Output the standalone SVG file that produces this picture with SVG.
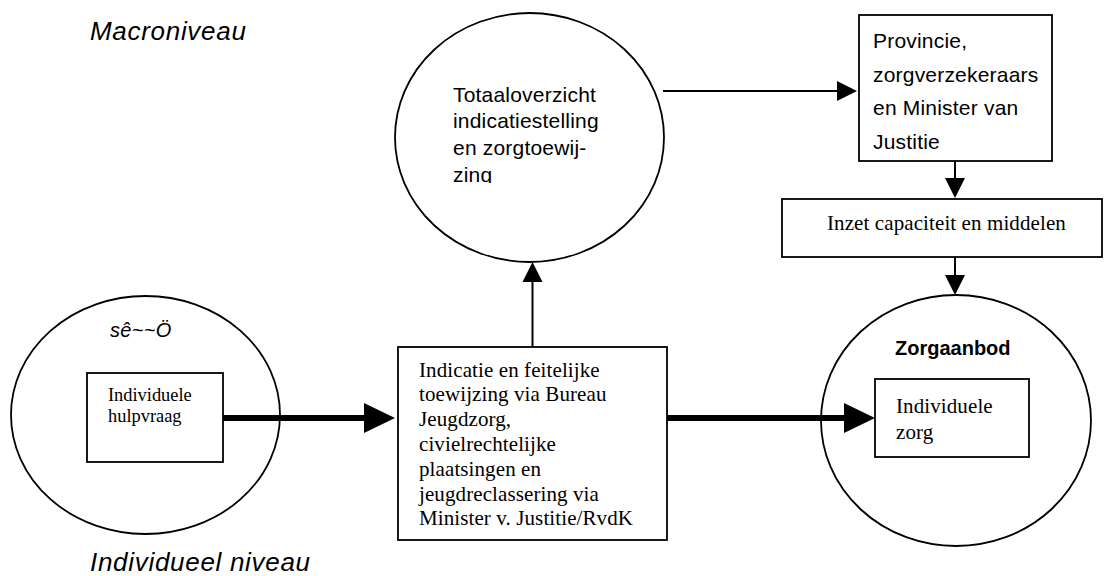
<svg xmlns="http://www.w3.org/2000/svg" width="1104" height="576" viewBox="0 0 1104 576">
<style>
  .shape { fill: #ffffff; stroke: #000000; stroke-width: 1.8; }
  .serif { font-family: "Liberation Serif", "Times New Roman", serif; font-size: 21px; letter-spacing: 0.1px; fill: #000; }
  .sans { font-family: "Liberation Sans", Arial, sans-serif; font-size: 21px; letter-spacing: 0.2px; fill: #000; }
  .level { font-family: "Liberation Sans", Arial, sans-serif; font-size: 26px; font-style: italic; letter-spacing: 0.7px; fill: #000; }
  .thin { fill: none; stroke: #000; stroke-width: 2; }
  .thick { fill: none; stroke: #000; stroke-width: 6; }
</style>
<defs>
  <marker id="ah-thin" markerUnits="userSpaceOnUse" markerWidth="20" markerHeight="20" refX="0" refY="10" orient="auto" overflow="visible">
    <path d="M0,0 L20,10 L0,20 z" fill="#000"/>
  </marker>
  <marker id="ah-thick" markerUnits="userSpaceOnUse" markerWidth="31" markerHeight="30" refX="0" refY="15" orient="auto" overflow="visible">
    <path d="M0,0 L31,15 L0,30 z" fill="#000"/>
  </marker>
  <clipPath id="clip-top">
    <rect x="440" y="70" width="200" height="113"/>
  </clipPath>
</defs>
<rect width="1104" height="576" fill="#ffffff"/>

<text class="level" x="90" y="40">Macroniveau</text>
<text class="level" x="90" y="571">Individueel niveau</text>

<g id="node-totaaloverzicht">
  <ellipse class="shape" cx="529.5" cy="137.5" rx="134.5" ry="124.5"/>
  <g clip-path="url(#clip-top)">
    <text class="sans" x="453" y="101.7">Totaaloverzicht</text>
    <text class="sans" x="453" y="128.3">indicatiestelling</text>
    <text class="sans" x="453" y="155">en zorgtoewij-</text>
    <text class="sans" x="453" y="181.5">zing</text>
  </g>
</g>

<g id="node-provincie">
  <rect class="shape" x="859" y="15" width="193" height="146"/>
  <text class="sans" x="873" y="48.3">Provincie,</text>
  <text class="sans" x="873" y="81.7">zorgverzekeraars</text>
  <text class="sans" x="873" y="115">en Minister van</text>
  <text class="sans" x="873" y="149">Justitie</text>
</g>

<g id="node-inzet">
  <rect class="shape" x="782" y="199" width="320" height="58"/>
  <text class="serif" x="827" y="230">Inzet capaciteit en middelen</text>
</g>

<g id="node-individueel">
  <ellipse class="shape" cx="145.5" cy="415" rx="134.5" ry="119"/>
  <text x="110" y="337" font-family="'Liberation Sans', Arial, sans-serif" font-size="20" font-style="italic" letter-spacing="0.3">sê~~Ö</text>
  <rect class="shape" x="87" y="373" width="136" height="89"/>
  <text class="serif" x="108" y="401" style="font-size:18.4px;letter-spacing:0">Individuele</text>
  <text class="serif" x="108" y="422" style="font-size:18.4px;letter-spacing:0">hulpvraag</text>
</g>

<g id="node-indicatie">
  <rect class="shape" x="398" y="347" width="269" height="193"/>
  <text class="serif" x="419" y="376.5">Indicatie en feitelijke</text>
  <text class="serif" x="419" y="401.3">toewijzing via Bureau</text>
  <text class="serif" x="419" y="426.1">Jeugdzorg,</text>
  <text class="serif" x="419" y="450.9">civielrechtelijke</text>
  <text class="serif" x="419" y="475.7">plaatsingen en</text>
  <text class="serif" x="419" y="500.5">jeugdreclassering via</text>
  <text class="serif" x="419" y="525.3">Minister v. Justitie/RvdK</text>
</g>

<g id="node-zorgaanbod">
  <ellipse class="shape" cx="956" cy="420.5" rx="135" ry="125.5"/>
  <text x="895" y="355" font-family="'Liberation Sans', Arial, sans-serif" font-size="20" font-weight="bold">Zorgaanbod</text>
  <rect class="shape" x="875" y="379" width="154" height="78"/>
  <text class="serif" x="896" y="413">Individuele</text>
  <text class="serif" x="896" y="439">zorg</text>
</g>

<g id="connectors">
  <path class="thin" d="M663,91 L837,91" marker-end="url(#ah-thin)"/>
  <path class="thin" d="M955,161 L955,178" marker-end="url(#ah-thin)"/>
  <path class="thin" d="M955,257 L955,275" marker-end="url(#ah-thin)"/>
  <path class="thin" d="M532.5,347 L532.5,282" marker-end="url(#ah-thin)"/>
  <path class="thick" d="M223,418 L364,418" marker-end="url(#ah-thick)"/>
  <path class="thick" d="M667,418 L844,418" marker-end="url(#ah-thick)"/>
</g>
</svg>
